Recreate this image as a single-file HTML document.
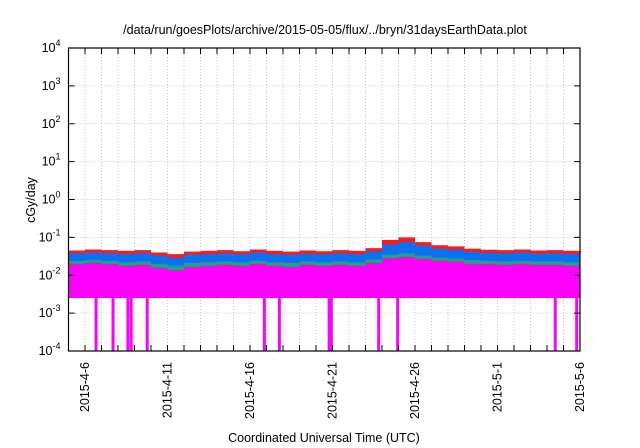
<!DOCTYPE html>
<html><head><meta charset="utf-8"><style>
body{margin:0;background:#fff;}
svg{display:block;font-family:"Liberation Sans",sans-serif;}
</style></head><body>
<svg id="chart" width="640" height="448" viewBox="0 0 640 448">
<text x="325" y="34" font-size="12.5" text-anchor="middle">/data/run/goesPlots/archive/2015-05-05/flux/../bryn/31daysEarthData.plot</text>
<text transform="translate(35,200) rotate(-90)" font-size="12.5" text-anchor="middle">cGy/day</text>
<text x="324" y="442" font-size="12.5" text-anchor="middle">Coordinated Universal Time (UTC)</text>
<g id="grid"></g><g id="series"></g><g id="axes"></g>
</svg>
<script>
const days = 31;
const tickLabels = ["2015-4-6","2015-4-11","2015-4-16","2015-4-21","2015-4-26","2015-5-1","2015-5-6"];
const tickDays = [1,6,11,16,21,26,31];
const yExps = [-4,-3,-2,-1,0,1,2,3,4];
const redTop = [0.045,0.048,0.046,0.044,0.046,0.040,0.036,0.042,0.044,0.046,0.043,0.048,0.044,0.042,0.045,0.043,0.046,0.044,0.052,0.085,0.10,0.075,0.062,0.058,0.050,0.047,0.046,0.048,0.045,0.046,0.044];
const blueTop = [0.038,0.040,0.038,0.036,0.038,0.033,0.029,0.035,0.036,0.038,0.036,0.040,0.036,0.035,0.037,0.036,0.038,0.036,0.043,0.065,0.075,0.060,0.050,0.047,0.041,0.039,0.038,0.040,0.037,0.038,0.036];
const greenTop = [0.024,0.025,0.024,0.022,0.023,0.020,0.018,0.021,0.022,0.023,0.022,0.024,0.022,0.021,0.023,0.022,0.023,0.022,0.026,0.035,0.038,0.033,0.029,0.028,0.025,0.024,0.023,0.024,0.023,0.023,0.022];
const magentaTop = [0.019,0.020,0.019,0.017,0.018,0.015,0.013,0.016,0.017,0.018,0.017,0.019,0.017,0.016,0.018,0.017,0.018,0.017,0.020,0.027,0.029,0.026,0.023,0.022,0.019,0.019,0.018,0.019,0.018,0.018,0.017];
const magentaFloor = 0.0025;
const dropoutDays = [1.67,2.7,3.6,3.8,4.77,11.87,12.78,15.8,15.93,18.8,19.95,29.5,30.8];

const L=68.5,R=580,T=48,B=351;
const xS = d => L + d*(R-L)/days;
const yS = v => B - (Math.log10(v)+4)*(B-T)/8;
const NS="http://www.w3.org/2000/svg";
function mk(tag,attrs,parent){const e=document.createElementNS(NS,tag);for(const k in attrs)e.setAttribute(k,attrs[k]);parent.appendChild(e);return e;}
const grid=document.getElementById('grid'),ser=document.getElementById('series'),axes=document.getElementById('axes');

for(let d=1;d<days;d++){
  const g=mk('line',{x1:xS(d),x2:xS(d),y1:T,y2:B,stroke:'#bbb','stroke-dasharray':'1,2','stroke-width':0.8},grid);
  
  
}
yExps.forEach(e=>{
  if(e>-4&&e<4){
    const g=mk('line',{x1:L,x2:R,y1:yS(Math.pow(10,e)),y2:yS(Math.pow(10,e)),stroke:'#bbb','stroke-dasharray':'1,2','stroke-width':0.8},grid);
    
    
  }
  const t=mk('text',{x:L-8,y:yS(Math.pow(10,e))+4,'font-size':12.5,'text-anchor':'end'},axes);
  
  
  t.textContent='10';
  const s=mk('tspan',{dy:-6,'font-size':9},t);s.textContent=String(e);
  const tk=mk('path',{d:`M${L},${yS(Math.pow(10,e))}h6M${R},${yS(Math.pow(10,e))}h-6`,stroke:'#000'},axes);
  
  
});

function area(top,floor,color,name){
  let d=`M${xS(0)},${yS(floor)}`;
  top.forEach((v,i)=>{d+=`L${xS(i)},${yS(v)}L${xS(i+1)},${yS(v)}`;});
  d+=`L${xS(days)},${yS(floor)}Z`;
  const p=mk('path',{d,fill:color},ser);
  
  
}
area(redTop,magentaFloor,'#ff1a1a','series-red');
area(blueTop,magentaFloor,'#0a72f0','series-blue');
area(greenTop,magentaFloor,'#20a090','series-green');
area(magentaTop.map(v=>v*1.05),magentaFloor,'#a04080','series-purple');
area(magentaTop,magentaFloor,'#ff00ff','series-magenta');
dropoutDays.forEach(d=>{
  const r=mk('rect',{x:xS(d)-1.5,y:yS(magentaFloor),width:3,height:B-yS(magentaFloor),fill:'#ff00ff'},ser);
  
  
});

for(let d=1;d<days;d++){
  const tk=mk('path',{d:`M${xS(d)},${B}v-6M${xS(d)},${T}v6`,stroke:'#000'},axes);
  
  
}
tickLabels.forEach((lab,i)=>{
  const x=xS(tickDays[i]);
  const t=mk('text',{transform:`translate(${x+4},${B+11}) rotate(-90)`,'font-size':12.5,'text-anchor':'end'},axes);
  
  
  t.textContent=lab;
});
const fr=mk('rect',{x:L,y:T,width:R-L,height:B-T,fill:'none',stroke:'#000','stroke-width':1.2},axes);


</script>
</body></html>
